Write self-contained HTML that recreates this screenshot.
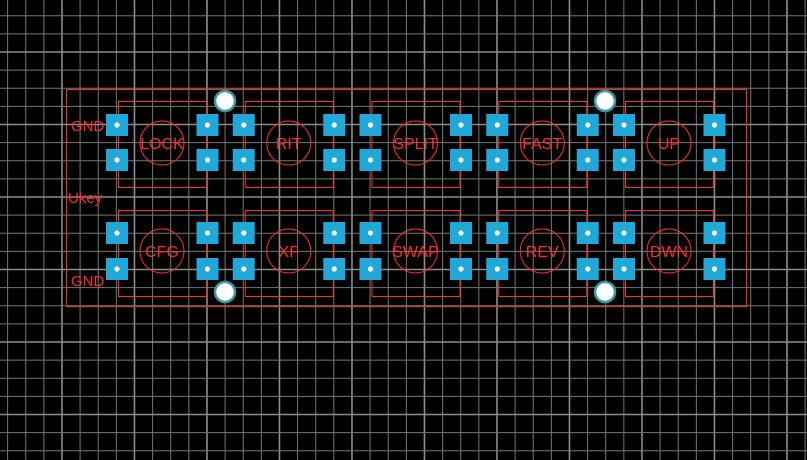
<!DOCTYPE html>
<html><head><meta charset="utf-8"><style>
html,body{margin:0;padding:0;background:#000;width:807px;height:460px;overflow:hidden}
svg{display:block}
text{font-family:"Liberation Sans",sans-serif;fill:#ff2a2a}
</style></head><body>
<svg width="807" height="460" viewBox="0 0 807 460" xmlns="http://www.w3.org/2000/svg">
<rect width="807" height="460" fill="#000"/>
<g id="grid"></g>
<g id="board"></g>
<script>
(function(){
var NS="http://www.w3.org/2000/svg";
function el(p,n,a,t){var e=document.createElementNS(NS,n);for(var k in a)e.setAttribute(k,a[k]);if(t)e.textContent=t;p.appendChild(e);return e;}
var g=document.getElementById('grid');
var s=18.125,x0=7.6,y0=15.75;
for(var i=0;i<46;i++){var x=x0+i*s;if(x>807)break;var maj=((i-3)%4===0);
 el(g,'line',{x1:x,y1:0,x2:x,y2:460,stroke:maj?'#8c8c8c':'#767676','stroke-width':maj?1.6:1});}
for(var j=0;j<27;j++){var y=y0+j*s;if(y>460)break;var maj=((j-2)%4===0);
 el(g,'line',{x1:0,y1:y,x2:807,y2:y,stroke:maj?'#8c8c8c':'#767676','stroke-width':maj?1.6:1});}
var b=document.getElementById('board');
el(b,'rect',{x:66.5,y:89.5,width:680,height:217,fill:'none',stroke:'#ff2a2a','stroke-width':1});
var names=[['LOCK','RIT','SPLIT','FAST','UP'],['CFG','XF','SWAP','REV','DWN']];
var rows=[[125,160],[233,269]];
var rtop=[101,210];
for(var r=0;r<2;r++)for(var c=0;c<5;c++){
 var L=117+c*126.75,R=L+90.5;
 el(b,'rect',{x:L+1.5,y:rtop[r]+0.5,width:88,height:86,fill:'none',stroke:'#ff2a2a','stroke-width':1});
 var cx=L+45,cy=r?251:143;
 el(b,'circle',{cx:cx,cy:cy,r:22,fill:'none',stroke:'#ff2a2a','stroke-width':1});
 el(b,'text',{x:cx,y:cy+6,'text-anchor':'middle','font-size':16},names[r][c]);
 [L,R].forEach(function(px){rows[r].forEach(function(py){
  el(b,'rect',{x:px-11,y:py-11,width:22,height:22,fill:'#1fa8d8'});
  el(b,'circle',{cx:px,cy:py,r:2.6,fill:'#fff'});
 });});
}
[[225,101],[605,101],[225,292],[605,292]].forEach(function(p){
 el(b,'circle',{cx:p[0],cy:p[1],r:10,fill:'#fff',stroke:'#3a9aa8','stroke-width':2.5});
});
el(b,'text',{x:71,y:131,'font-size':15},'GND');
el(b,'text',{x:68,y:203,'font-size':15},'Ukey');
el(b,'text',{x:71,y:286,'font-size':15},'GND');
})();
</script>
</svg>
</body></html>
